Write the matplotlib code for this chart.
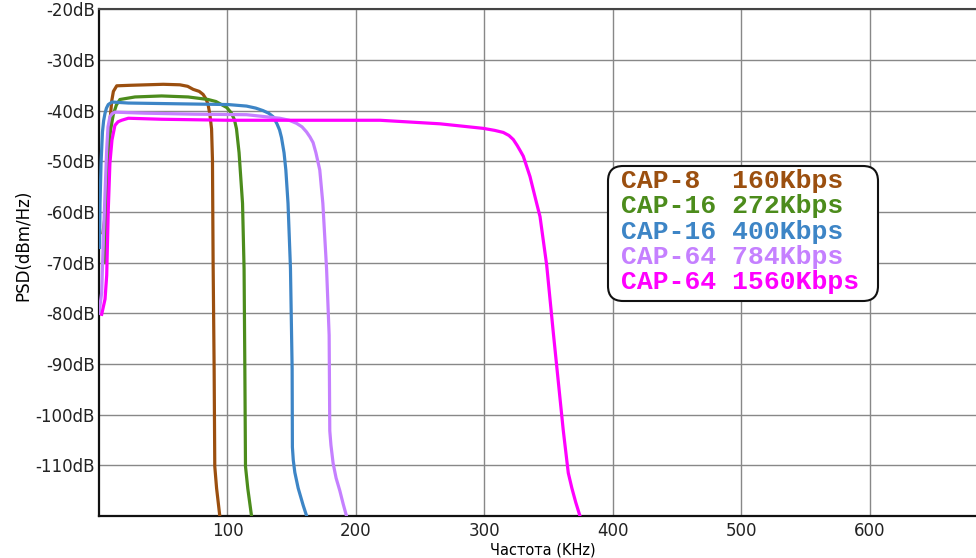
import matplotlib
matplotlib.use("Agg")
import matplotlib.pyplot as plt
from matplotlib.patches import FancyBboxPatch
from matplotlib.transforms import IdentityTransform

# series: frequency (kHz) and PSD (dB)
cap8_x = [3.1, 6.0, 8.0, 9.9, 11.2, 13.8, 24.1, 50.0, 62.9, 69.0, 73.3, 78.0, 81.0, 83.3, 84.9, 86.3, 87.6, 88.3, 88.8, 89.6, 90.1, 91.5, 94.0]
cap8_y = [-64.1, -58.3, -43.6, -38.1, -36.2, -35.1, -35.0, -34.8, -34.9, -35.2, -35.8, -36.2, -36.8, -37.7, -38.8, -40.8, -43.6, -49.7, -69.8, -90.9, -110.2, -114.5, -120.0]

cap16a_x = [4.9, 6.2, 7.2, 9.0, 11.1, 13.5, 16.3, 28.0, 48.7, 69.4, 84.9, 91.0, 95.3, 99.5, 103.1, 105.4, 107.0, 109.0, 111.7, 112.9, 113.5, 114.0, 115.8, 118.7]
cap16a_y = [-70.0, -58.3, -48.3, -43.8, -40.8, -38.9, -37.8, -37.3, -37.1, -37.3, -37.8, -38.2, -38.8, -39.4, -40.5, -41.8, -43.6, -48.3, -58.3, -71.2, -90.9, -110.2, -114.6, -120.0]

cap16b_x = [0.4, 0.8, 1.6, 2.7, 3.6, 4.7, 5.8, 7.2, 10.1, 22.8, 48.7, 74.6, 100.5, 114.8, 122.0, 127.7, 132.0, 135.5, 138.5, 140.5, 142.0, 144.0, 145.4, 147.1, 149.0, 150.3, 150.5, 151.2, 152.4, 155.0, 158.9, 161.6]
cap16b_y = [-67.0, -58.3, -50.3, -44.2, -42.0, -40.5, -39.5, -38.8, -38.3, -38.5, -38.6, -38.7, -38.8, -39.1, -39.5, -40.0, -40.5, -41.2, -42.6, -43.8, -45.3, -48.3, -51.7, -58.3, -71.1, -90.9, -106.4, -109.0, -111.4, -114.5, -117.9, -120.0]

cap64a_x = [0.0, 2.1, 3.3, 4.7, 6.0, 7.0, 8.5, 10.2, 12.4, 35.7, 74.6, 114.8, 140.7, 148.0, 153.7, 158.0, 161.5, 164.2, 166.6, 168.8, 171.8, 174.2, 177.1, 179.1, 179.6, 180.5, 182.2, 184.5, 187.4, 190.0, 192.6]
cap64a_y = [-80.0, -75.9, -66.0, -56.3, -47.6, -43.2, -41.2, -40.6, -40.3, -40.5, -40.7, -40.8, -41.5, -41.9, -42.5, -43.2, -44.2, -45.2, -46.3, -48.3, -51.7, -58.3, -71.2, -84.3, -103.2, -106.0, -109.6, -112.5, -115.0, -117.6, -120.0]

cap64b_x = [2.1, 4.7, 6.0, 7.2, 8.5, 10.1, 12.4, 14.8, 17.6, 22.8, 48.7, 100.5, 218.7, 265.4, 299.1, 308.0, 314.6, 319.0, 322.4, 325.5, 328.0, 330.2, 335.4, 340.6, 343.2, 348.4, 353.5, 357.4, 361.3, 365.2, 368.0, 371.0, 374.3]
cap64b_y = [-80.2, -77.2, -72.5, -59.7, -50.3, -45.8, -42.9, -42.2, -41.9, -41.5, -41.7, -41.9, -41.9, -42.6, -43.5, -43.9, -44.3, -44.9, -45.7, -46.9, -48.0, -49.0, -53.0, -58.3, -60.9, -70.5, -83.7, -93.4, -103.1, -111.5, -114.5, -117.3, -120.0]

labels = ["CAP-8  160Kbps", "CAP-16 272Kbps", "CAP-16 400Kbps", "CAP-64 784Kbps", "CAP-64 1560Kbps"]
colors = ["#9B4F0F", "#4C8C1C", "#3D85C6", "#C580FF", "#FF00FF"]

xticks = [100, 200, 300, 400, 500, 600]
yticks = [-20, -30, -40, -50, -60, -70, -80, -90, -100, -110]

fig = plt.figure(figsize=(9.76, 5.58), dpi=100)
ax = fig.add_axes([99 / 976, 42 / 558, 877 / 976, 506.7 / 558])

series = [(cap8_x, cap8_y), (cap16a_x, cap16a_y), (cap16b_x, cap16b_y),
          (cap64a_x, cap64a_y), (cap64b_x, cap64b_y)]
for (xs, ys), c in zip(series, colors):
    ax.plot(xs, ys, color=c, linewidth=2.3, solid_joinstyle="round", zorder=3)

ax.set_xlim(0, 682.5)
ax.set_ylim(-120, -20)
ax.set_xticks(xticks)
ax.set_xticklabels([str(t) for t in xticks])
ax.set_yticks(yticks)
ax.set_yticklabels([f"{t}dB" for t in yticks])
ax.tick_params(length=0, labelsize=12, colors="#222222")
ax.tick_params(axis="x", pad=4)
ax.tick_params(axis="y", pad=3)
ax.grid(True, color="#888888", linewidth=1.0)
ax.set_axisbelow(True)

for side in ["left", "bottom"]:
    ax.spines[side].set_linewidth(1.6)
    ax.spines[side].set_color("#111111")
ax.spines["top"].set_linewidth(1.5)
ax.spines["top"].set_color("#444444")
ax.spines["right"].set_visible(False)

ax.set_ylabel("PSD(dBm/Hz)", fontsize=12)
ax.yaxis.set_label_coords(-0.076, 0.535)
ax.set_xlabel("Частота (KHz)", fontsize=10.5)
ax.xaxis.set_label_coords(0.506, -0.052)

# legend box drawn in pixel coordinates
box = FancyBboxPatch((608, 558 - 301), 270, 135, boxstyle="round,pad=0,rounding_size=15",
                     transform=IdentityTransform(), facecolor="white", edgecolor="#111111",
                     linewidth=1.5, zorder=5)
fig.add_artist(box)
line_y = [181, 206, 231.5, 257, 282.5]
for lab, c, yy in zip(labels, colors, line_y):
    fig.text(621 / 976, 1 - yy / 558, lab, color=c, va="center", ha="left",
             family="Liberation Mono", weight="bold", fontsize=19, zorder=6)

fig.savefig("out.png", dpi=100)
